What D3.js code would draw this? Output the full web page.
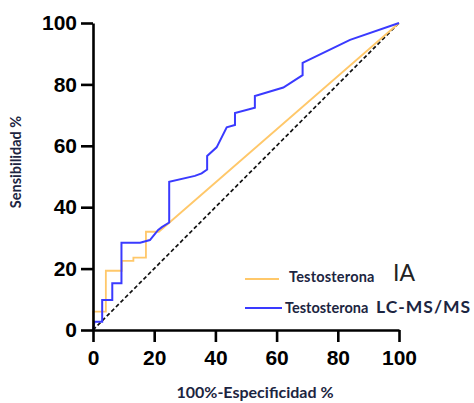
<!DOCTYPE html>
<html>
<head>
<meta charset="utf-8">
<script src="https://cdn.jsdelivr.net/npm/d3@7"></script>
<style>
  body { margin: 0; background: #fff; }
</style>
</head>
<body>
<div id="myChart"></div>
<script>
// ROC curves, values (100%-especificidad, sensibilidad)
var iaX = [0, 0, 4.2, 4.2, 9.4, 9.4, 13.2, 13.2, 17.3, 17.3, 21.5, 100];
var iaY = [0, 6, 6, 19.3, 19.3, 22.5, 22.5, 23.6, 23.6, 32, 32, 100];

var lcX = [0, 0.5, 3, 3, 6.3, 6.3, 9.3, 9.3, 15.4, 18.6, 21.3, 22.5, 24.9, 24.9, 33.3, 35.5, 37.3, 37.3, 40.4, 43.7, 46.4, 46.4, 52.9, 52.9, 62.2, 68.5, 68.5, 84, 100];
var lcY = [0, 2.7, 2.7, 9.8, 9.8, 15.2, 15.2, 28.4, 28.4, 29.3, 32.6, 33.5, 35, 48.3, 50.2, 51, 52.3, 56.7, 59.5, 66, 66.8, 70.7, 72.4, 76.2, 79, 83, 87, 94.5, 100];

var refX = [0, 100];
var refY = [0, 100];

var ticks = [0, 20, 40, 60, 80, 100];

var svg = d3.select("#myChart")
    .append("svg")
    .attr("width", 474).attr("height", 403);

var x = d3.scaleLinear().domain([0, 100]).range([93, 399]);
var y = d3.scaleLinear().domain([0, 100]).range([330, 23]);

var line = d3.line()
    .x(function(d) { return x(d[0]); })
    .y(function(d) { return y(d[1]); });

// reference diagonal
svg.append("path")
    .datum(d3.zip(refX, refY))
    .attr("d", line)
    .attr("fill", "none")
    .attr("stroke", "#111")
    .attr("stroke-width", 1.7)
    .attr("stroke-dasharray", "4,2.5");

svg.append("path")
    .datum(d3.zip(iaX, iaY))
    .attr("d", line)
    .attr("fill", "none")
    .attr("stroke", "#ffc86a")
    .attr("stroke-width", 1.8);

svg.append("path")
    .datum(d3.zip(lcX, lcY))
    .attr("d", line)
    .attr("fill", "none")
    .attr("stroke", "#3a3aff")
    .attr("stroke-width", 2);

// axes
var xAxis = svg.append("g")
    .attr("transform", "translate(0,330)")
    .call(d3.axisBottom(x).tickValues(ticks).tickSize(12).tickPadding(8).tickSizeOuter(0));

var yAxis = svg.append("g")
    .attr("transform", "translate(93,0)")
    .call(d3.axisLeft(y).tickValues(ticks).tickSize(12).tickPadding(4).tickSizeOuter(0));

[xAxis, yAxis].forEach(function(g) {
    g.select(".domain").attr("stroke", "#000").attr("stroke-width", 2.6);
    g.selectAll(".tick line").attr("stroke", "#000").attr("stroke-width", 2.6);
    g.selectAll(".tick text")
        .attr("fill", "#000")
        .style("font-family", "'Liberation Sans', Arial, sans-serif")
        .style("font-weight", "bold")
        .style("font-size", "21px");
});

// axis titles
svg.append("text")
    .attr("transform", "translate(21,162) rotate(-90)")
    .attr("text-anchor", "middle")
    .style("font-family", "Lato, sans-serif")
    .style("font-weight", "bold")
    .style("font-size", "14.5px")
    .attr("fill", "#1c2541")
    .text("Sensibilidad %");

svg.append("text")
    .attr("x", 255).attr("y", 398)
    .attr("text-anchor", "middle")
    .style("font-family", "Lato, sans-serif")
    .style("font-weight", "bold")
    .style("font-size", "16px")
    .attr("fill", "#1c2541")
    .text("100%-Especificidad %");

// legend
var legend = svg.append("g");

legend.append("line")
    .attr("x1", 245).attr("x2", 279)
    .attr("y1", 279).attr("y2", 279)
    .attr("stroke", "#ffc86a").attr("stroke-width", 1.8);

legend.append("text")
    .attr("x", 289).attr("y", 282)
    .style("font-family", "Lato, sans-serif")
    .style("font-weight", "bold")
    .style("font-size", "14.5px")
    .style("letter-spacing", "0.2px")
    .attr("fill", "#1c2541")
    .text("Testosterona");

legend.append("text")
    .attr("x", 393).attr("y", 281)
    .style("font-family", "Lato, sans-serif")
    .style("font-size", "23px")
    .attr("fill", "#222")
    .text("IA");

legend.append("line")
    .attr("x1", 245).attr("x2", 282)
    .attr("y1", 308).attr("y2", 308)
    .attr("stroke", "#3a3aff").attr("stroke-width", 2);

legend.append("text")
    .attr("x", 285).attr("y", 313)
    .style("font-family", "Lato, sans-serif")
    .style("font-weight", "bold")
    .style("font-size", "14.5px")
    .attr("fill", "#1c2541")
    .text("Testosterona");

legend.append("text")
    .attr("x", 376).attr("y", 313)
    .style("font-family", "Lato, sans-serif")
    .style("font-weight", "bold")
    .style("font-size", "17.5px")
    .style("letter-spacing", "1px")
    .attr("fill", "#1c2541")
    .text("LC-MS/MS");
</script>
</body>
</html>
